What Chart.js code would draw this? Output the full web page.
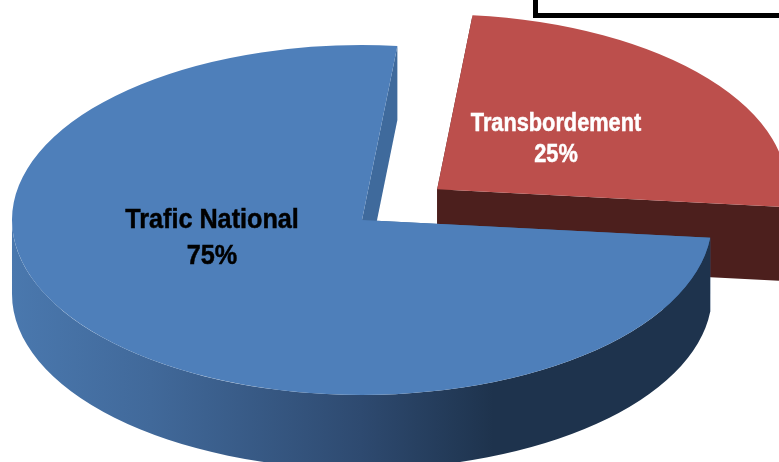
<!DOCTYPE html>
<html lang="fr">
<head>
<meta charset="utf-8">
<title>Trafic National / Transbordement</title>
<script src="https://cdn.jsdelivr.net/npm/chart.js@4/dist/chart.umd.min.js"></script>
<style>
    html, body { margin: 0; padding: 0; background: #fff; overflow: hidden; }
    #wrap { position: relative; width: 779px; height: 462px; overflow: hidden; }
    #frame { position: absolute; left: 533px; top: -20px; width: 300px; height: 38px; box-sizing: border-box; border: 5px solid #000; background: #fff; }
</style>
</head>
<body>
<div id="wrap">
    <canvas id="pieChart" width="779" height="462"></canvas>
    <div id="frame"></div>
</div>
<script>
const categories = ["Transbordement", "Trafic National"];
const values = [25, 75];

const TOP_COLORS = ["#bc4f4c", "#4e7fba"];
const WALL_COLORS = ["#4c1f1d", "#3f6a9c"];
const LABEL_COLORS = ["#ffffff", "#000000"];
const EXPLODE = [97, 0];
const LABEL_POS = [
    { x: 556, y: 131, lineHeight: 31, size: 25, narrow: 0.87 },
    { x: 212, y: 228, lineHeight: 36, size: 28, narrow: 0.9 },
];
const SQUASH = 0.5;
const DEPTH = 74;

function rimFill(ctx, index) {
    if (index === 0) return WALL_COLORS[0];
    const grad = ctx.createLinearGradient(11, 0, 710, 0);
    grad.addColorStop(0, "#4a78ae");
    grad.addColorStop(0.2, "#41699a");
    grad.addColorStop(0.5, "#2e4a70");
    grad.addColorStop(0.69, "#1e334d");
    grad.addColorStop(1, "#1e334d");
    return grad;
}

// fake 3d: squash the arcs of the pie and extrude them downwards
const pie3d = {
    id: "pie3d",
    beforeDatasetDraw(chart) {
        const ctx = chart.ctx;
        chart.getDatasetMeta(0).data.forEach((arc, i) => {
            const { x, y, startAngle, endAngle, outerRadius } = arc.getProps(["x", "y", "startAngle", "endAngle", "outerRadius"], true);
            const mid = (startAngle + endAngle) / 2;
            const ry = outerRadius * SQUASH;

            ctx.save();
            ctx.translate(Math.cos(mid) * EXPLODE[i], Math.sin(mid) * EXPLODE[i] * SQUASH);

            // cut faces
            ctx.fillStyle = WALL_COLORS[i];
            [startAngle, endAngle].forEach((a) => {
                const ex = x + Math.cos(a) * outerRadius;
                const ey = y + Math.sin(a) * ry;
                ctx.beginPath();
                ctx.moveTo(x, y);
                ctx.lineTo(ex, ey);
                ctx.lineTo(ex, ey + DEPTH);
                ctx.lineTo(x, y + DEPTH);
                ctx.closePath();
                ctx.fill();
            });

            // outer rim, only the half facing the viewer
            const from = Math.max(startAngle, 0);
            const to = Math.min(endAngle, Math.PI);
            if (from < to) {
                ctx.fillStyle = rimFill(ctx, i);
                ctx.beginPath();
                ctx.ellipse(x, y, outerRadius, ry, 0, from, to);
                ctx.ellipse(x, y + DEPTH, outerRadius, ry, 0, to, from, true);
                ctx.closePath();
                ctx.fill();
            }

            // top face, drawn by the arc element itself
            ctx.translate(x, y);
            ctx.scale(1, SQUASH);
            ctx.translate(-x, -y);
            arc.draw(ctx);
            ctx.restore();
        });
        return false;
    },
    afterDatasetsDraw(chart) {
        const ctx = chart.ctx;
        categories.forEach((name, i) => {
            const pos = LABEL_POS[i];
            ctx.save();
            ctx.textAlign = "center";
            ctx.textBaseline = "alphabetic";
            ctx.font = `bold ${pos.size}px "Liberation Sans", sans-serif`;
            ctx.fillStyle = LABEL_COLORS[i];
            ctx.strokeStyle = LABEL_COLORS[i];
            ctx.lineWidth = 0.5;
            ctx.translate(pos.x, pos.y);
            ctx.scale(pos.narrow, 1);
            ctx.fillText(name, 0, 0);
            ctx.strokeText(name, 0, 0);
            ctx.fillText(`${values[i]}%`, 0, pos.lineHeight);
            ctx.strokeText(`${values[i]}%`, 0, pos.lineHeight);
            ctx.restore();
        });
    },
};

new Chart(document.getElementById("pieChart"), {
    type: "pie",
    data: {
        labels: categories,
        datasets: [{
            data: values,
            backgroundColor: TOP_COLORS,
            borderWidth: 0,
            radius: 350,
        }],
    },
    options: {
        responsive: false,
        animation: false,
        rotation: 5.8,
        layout: { padding: { right: 55, bottom: 22 } },
        plugins: { legend: { display: false }, tooltip: { enabled: false } },
    },
    plugins: [pie3d],
});
</script>
</body>
</html>
